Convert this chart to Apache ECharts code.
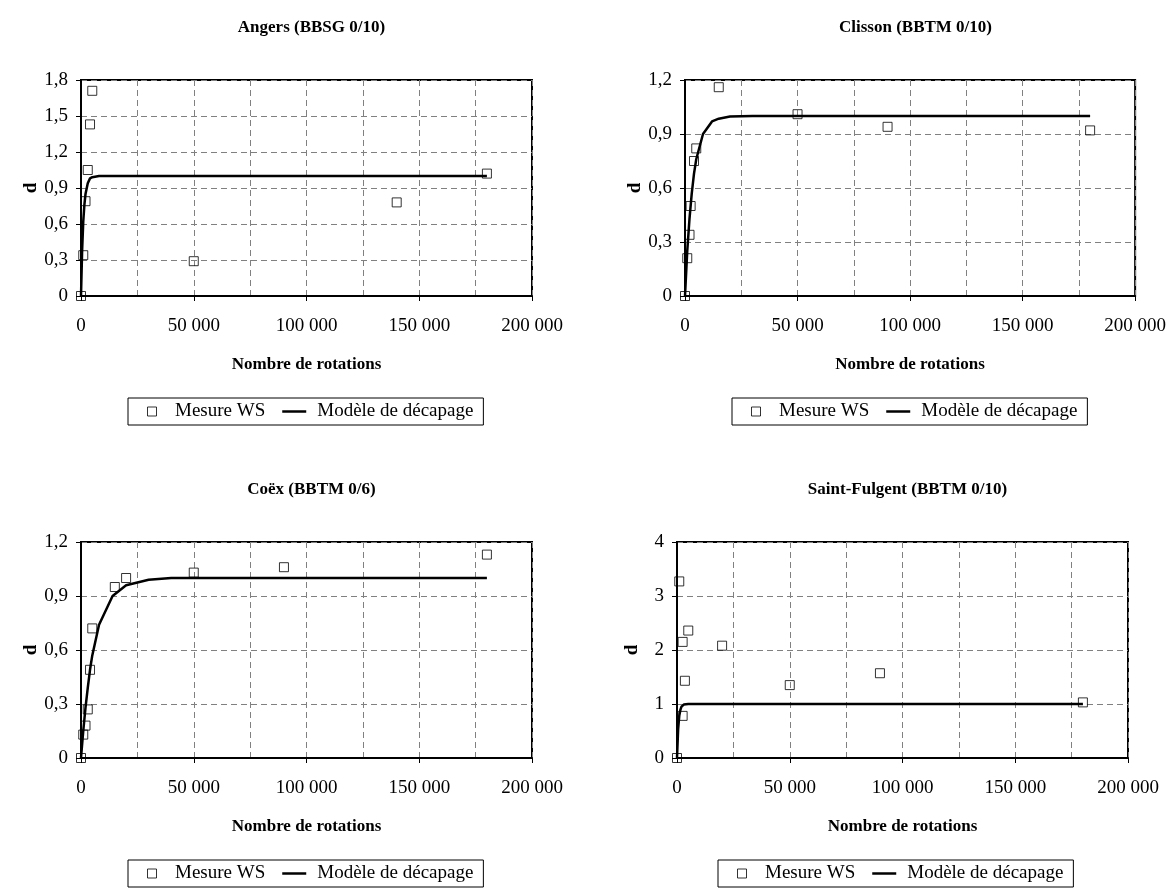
<!DOCTYPE html>
<html>
<head>
<meta charset="utf-8">
<script src="https://cdn.jsdelivr.net/npm/echarts@6/dist/echarts.min.js"></script>
<style>
html,body{margin:0;padding:0;background:#fff;}
#chart{width:1169px;height:888px;}
</style>
</head>
<body>
<div id="chart"></div>
<script>
// ---- Data ----
const panelTitles = ['Angers (BBSG 0/10)', 'Clisson (BBTM 0/10)', 'Coëx (BBTM 0/6)', 'Saint-Fulgent (BBTM 0/10)'];
const xAxisTitle = 'Nombre de rotations';
const yAxisTitle = 'd';
const seriesNames = ['Mesure WS', 'Modèle de décapage'];
const xTickLabels = ['0', '50 000', '100 000', '150 000', '200 000'];
const yMaxes = [1.8, 1.2, 1.2, 4];
const yIntervals = [0.3, 0.3, 0.3, 1];

// Measured points [rotations, d]
const angersMeasure = [[0,0],[1000,0.34],[2000,0.79],[3000,1.05],[4000,1.43],[5000,1.71],[50000,0.29],[140000,0.78],[180000,1.02]];
const clissonMeasure = [[0,0],[1000,0.21],[2000,0.34],[2500,0.50],[4000,0.75],[5000,0.82],[15000,1.16],[50000,1.01],[90000,0.94],[180000,0.92]];
const coexMeasure = [[0,0],[1000,0.13],[2000,0.18],[3000,0.27],[4000,0.49],[5000,0.72],[15000,0.95],[20000,1.00],[50000,1.03],[90000,1.06],[180000,1.13]];
const saintFulgentMeasure = [[0,0],[1000,3.27],[2500,2.15],[2500,0.78],[3500,1.43],[5000,2.36],[20000,2.08],[50000,1.35],[90000,1.57],[180000,1.03]];

// Model curve points [rotations, d]
const angersModel = [[0,0],[500,0.38],[1000,0.62],[1500,0.76],[2000,0.85],[3000,0.94],[4000,0.98],[5000,0.99],[8000,1.0],[180000,1.0]];
const clissonModel = [[0,0],[1000,0.25],[2000,0.43],[3000,0.57],[4000,0.68],[5000,0.76],[8000,0.90],[12000,0.97],[15000,0.985],[20000,0.997],[30000,1.0],[180000,1.0]];
const coexModel = [[0,0],[1000,0.15],[2000,0.28],[3000,0.39],[4000,0.49],[5000,0.57],[8000,0.74],[14000,0.90],[20000,0.96],[30000,0.99],[40000,1.0],[180000,1.0]];
const saintFulgentModel = [[0,0],[500,0.53],[1000,0.78],[1500,0.89],[2000,0.95],[3000,0.99],[5000,1.0],[180000,1.0]];

const measures = [angersMeasure, clissonMeasure, coexMeasure, saintFulgentMeasure];
const models = [angersModel, clissonModel, coexModel, saintFulgentModel];

// ---- Layout ----
const grids = [
  {left: 81, top: 80, width: 451, height: 216, legendLeft: 128},
  {left: 685, top: 80, width: 451, height: 216, legendLeft: 732},
  {left: 81, top: 542, width: 451, height: 216, legendLeft: 128},
  {left: 677, top: 542, width: 451, height: 216, legendLeft: 718}
];
const FONT = '"Liberation Serif", "Times New Roman", serif';
const SQUARE_ICON = 'path://M0,0 L10,0 L10,10 L0,10 Z';
const LINE_ICON = 'path://M0,0 L24,0 L24,2.5 L0,2.5 Z';

const chart = echarts.init(document.getElementById('chart'), null, {renderer: 'canvas'});

const option = {
  backgroundColor: '#fff',
  animation: false,
  title: [],
  legend: [],
  grid: [],
  xAxis: [],
  yAxis: [],
  series: []
};

grids.forEach((g, i) => {
  option.grid.push({left: g.left, top: g.top, width: g.width, height: g.height, show: true,
    borderColor: '#000', borderWidth: 2, backgroundColor: 'transparent', containLabel: false});
  option.title.push({
    text: panelTitles[i], left: g.left + g.width / 2, top: g.top - 66, textAlign: 'center',
    textStyle: {fontFamily: FONT, fontWeight: 'bold', fontSize: 17, color: '#000'}
  });
  option.legend.push({
    data: [
      {name: seriesNames[0], icon: SQUARE_ICON, itemStyle: {color: 'transparent', borderColor: '#000', borderWidth: 1}},
      {name: seriesNames[1], icon: LINE_ICON, itemStyle: {color: '#000', borderWidth: 0}}
    ],
    left: g.legendLeft, top: g.top + 318,
    itemWidth: 24, itemHeight: 9, itemGap: 17,
    symbolKeepAspect: true,
    padding: [4, 10, 4, 19],
    borderColor: '#000', borderWidth: 1,
    textStyle: {fontFamily: FONT, fontSize: 19, color: '#000', padding: [0, 0, 0, 6]},
    selectedMode: false
  });
  option.xAxis.push({
    type: 'value', gridIndex: i, min: 0, max: 200000, interval: 50000,
    name: xAxisTitle, nameLocation: 'middle', nameGap: 60,
    nameTextStyle: {fontFamily: FONT, fontWeight: 'bold', fontSize: 17, color: '#000'},
    axisLine: {show: true, onZero: false, lineStyle: {color: '#000', width: 2}},
    axisTick: {show: true, inside: false, length: 5, lineStyle: {color: '#000', width: 1}},
    axisLabel: {fontFamily: FONT, fontSize: 19, color: '#000', margin: 21,
      formatter: v => xTickLabels[Math.round(v / 50000)]},
    splitLine: {show: true, lineStyle: {color: '#808080', type: [6, 4], width: 1}},
    minorTick: {show: false, splitNumber: 2},
    minorSplitLine: {show: true, lineStyle: {color: '#808080', type: [6, 4], width: 1}}
  });
  option.yAxis.push({
    type: 'value', gridIndex: i, min: 0, max: yMaxes[i], interval: yIntervals[i],
    name: yAxisTitle, nameLocation: 'middle', nameGap: 35,
    nameTextStyle: {fontFamily: FONT, fontWeight: 'bold', fontSize: 19, color: '#000'},
    axisLine: {show: true, onZero: false, lineStyle: {color: '#000', width: 2}},
    axisTick: {show: true, inside: false, length: 5, lineStyle: {color: '#000', width: 1}},
    axisLabel: {fontFamily: FONT, fontSize: 19, color: '#000', margin: 13,
      formatter: v => String(Math.round(v * 10) / 10).replace('.', ',')},
    splitLine: {show: true, lineStyle: {color: '#808080', type: [6, 4], width: 1}}
  });
  option.series.push({
    name: seriesNames[1], type: 'line', xAxisIndex: i, yAxisIndex: i,
    data: models[i], symbol: 'none', smooth: false, clip: false,
    lineStyle: {color: '#000', width: 2.5}, itemStyle: {color: '#000'}, z: 3
  });
  option.series.push({
    name: seriesNames[0], type: 'scatter', xAxisIndex: i, yAxisIndex: i,
    data: measures[i], symbol: 'rect', symbolSize: 9, clip: false,
    itemStyle: {color: 'transparent', borderColor: '#000', borderWidth: 1}, z: 4
  });
});

chart.setOption(option);
</script>
</body>
</html>
